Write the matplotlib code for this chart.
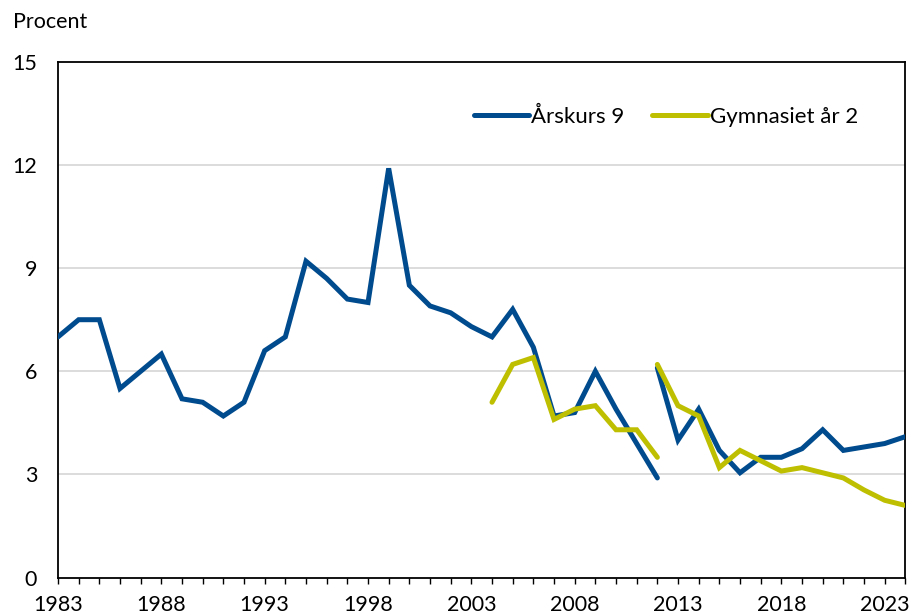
import matplotlib
matplotlib.use("Agg")
import matplotlib.pyplot as plt
from matplotlib.ticker import FixedLocator, MultipleLocator

plt.rcParams['font.family'] = ['Lato', 'DejaVu Sans']

# Data
years_ak9_old = list(range(1983, 2013))
ak9_old = [7.0, 7.5, 7.5, 5.5, 6.0, 6.5, 5.2, 5.1, 4.7, 5.1,
           6.6, 7.0, 9.2, 8.7, 8.1, 8.0, 11.9, 8.5, 7.9, 7.7,
           7.3, 7.0, 7.8, 6.7, 4.7, 4.8, 6.0, 4.9, 3.9, 2.9]
years_ak9_new = list(range(2012, 2025))
ak9_new = [6.1, 4.0, 4.9, 3.7, 3.05, 3.5, 3.5, 3.75, 4.3, 3.7, 3.8, 3.9, 4.1]

years_gy2_old = list(range(2004, 2013))
gy2_old = [5.1, 6.2, 6.4, 4.6, 4.9, 5.0, 4.3, 4.3, 3.5]
years_gy2_new = list(range(2012, 2025))
gy2_new = [6.2, 5.0, 4.7, 3.2, 3.7, 3.4, 3.1, 3.2, 3.05, 2.9, 2.55, 2.25, 2.1]

label_ak9 = "Årskurs 9"
label_gy2 = "Gymnasiet år 2"
y_label = "Procent"
x_label_years = list(range(1983, 2024, 5))
y_ticks = [0, 3, 6, 9, 12, 15]

blue = '#004B8D'
yellow = '#BDBF00'

fig = plt.figure(figsize=(9.09, 6.16), dpi=100)
ax = fig.add_axes([0.0638, 0.0622, 0.9322, 0.8376])

lw = 3.6
ax.plot(years_ak9_old, ak9_old, color=blue, lw=lw, solid_capstyle='round',
        solid_joinstyle='miter', label=label_ak9, zorder=3)
ax.plot(years_ak9_new, ak9_new, color=blue, lw=lw, solid_capstyle='round',
        solid_joinstyle='miter', zorder=3)
ax.plot(years_gy2_old, gy2_old, color=yellow, lw=lw, solid_capstyle='round',
        solid_joinstyle='miter', label=label_gy2, zorder=4)
ax.plot(years_gy2_new, gy2_new, color=yellow, lw=lw, solid_capstyle='round',
        solid_joinstyle='miter', zorder=4)

ax.set_xlim(1983, 2024)
ax.set_ylim(0, 15)

ax.set_yticks(y_ticks)
ax.set_yticklabels([str(v) for v in y_ticks])
ax.tick_params(axis='y', length=0, pad=15, labelsize=15.5)

ax.xaxis.set_major_locator(FixedLocator(x_label_years))
ax.set_xticklabels([str(v) for v in x_label_years])
ax.xaxis.set_minor_locator(MultipleLocator(1))
ax.tick_params(axis='x', which='both', direction='out', length=4.5, width=1.0,
               pad=8, labelsize=15.5, color='black')

for y in [3, 6, 9, 12]:
    ax.axhline(y, color='#D9D9D9', lw=1.3, zorder=1)

for s in ax.spines.values():
    s.set_color('black')
    s.set_linewidth(1.3)

leg = ax.legend(loc='upper right', bbox_to_anchor=(0.955, 0.93), ncol=2,
                frameon=False, fontsize=16, handlelength=2.5,
                handletextpad=0.1, columnspacing=1.25, borderaxespad=0)

fig.text(0.014, 1 - 22 / 616, y_label, fontsize=15.5, va='center', ha='left')

fig.savefig('out.png', dpi=100)
